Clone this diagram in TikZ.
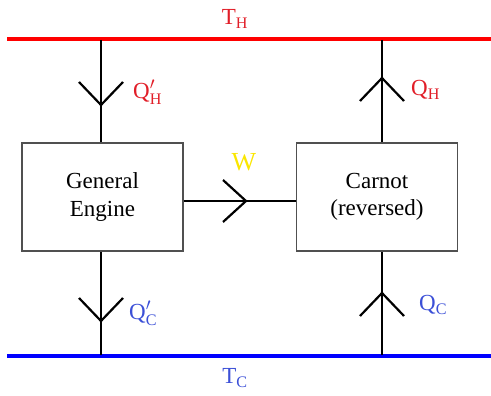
\documentclass[tikz,border=0pt]{standalone}
\usepackage{amsmath}
\usepackage{fontspec}
\setmainfont{Liberation Serif}
\definecolor{hotred}{RGB}{255,0,0}
\definecolor{hotlbl}{RGB}{225,30,40}
\definecolor{coldblue}{RGB}{0,0,255}
\definecolor{coldlbl}{RGB}{60,80,215}
\definecolor{wyellow}{RGB}{250,230,0}
\definecolor{boxgray}{RGB}{80,80,80}
\tikzset{
  reservoir/.style={line width=3.5pt},
  flow/.style={line width=2.2pt, black},
  chev/.style={line width=2.2pt, black, line join=miter},
  engbox/.style={draw=boxgray, line width=1.3pt, minimum width=161pt, minimum height=108pt, align=center, font=\fontsize{23}{27.5}\selectfont, inner sep=0pt},
  hotlabel/.style={text=hotlbl, font=\fontsize{23}{25}\selectfont, inner sep=0pt},
  coldlabel/.style={text=coldlbl, font=\fontsize{23}{25}\selectfont, inner sep=0pt},
}
\begin{document}
\begin{tikzpicture}[x=1pt,y=-1pt]
\useasboundingbox (0,0) rectangle (491,396);
% reservoirs
\coordinate (hl) at (7,39);
\coordinate (hr) at (491,39);
\coordinate (cl) at (7,356);
\coordinate (cr) at (491,356);
\draw[reservoir, hotred] (hl) -- (hr);
\draw[reservoir, coldblue] (cl) -- (cr);
\node[hotlabel] (th) at (235,19) {T$_{\text{H}}$};
\node[coldlabel] (tc) at (235,378) {T$_{\text{C}}$};
% boxes
\node[engbox] (ge) at (102.5,197) {General\\Engine};
\node[engbox] (ca) at (377,197) {Carnot\\(reversed)};
% vertical connectors
\coordinate (h1) at (101,40);
\coordinate (h2) at (382,40);
\coordinate (c1) at (101,355);
\coordinate (c2) at (382,355);
\draw[flow] (h1) -- (h1 |- ge.north);
\draw[flow] (h2) -- (h2 |- ca.north);
\draw[flow] (c1) -- (c1 |- ge.south);
\draw[flow] (c2) -- (c2 |- ca.south);
% horizontal work connector
\coordinate (w1) at (ge.east |- 0,201);
\coordinate (w2) at (ca.west |- 0,201);
\draw[flow] (w1) -- (w2);
% chevrons
\coordinate (t1) at (101,105);
\coordinate (t2) at (382,78);
\coordinate (t3) at (101,321);
\coordinate (t4) at (382,293);
\coordinate (t5) at (246,201);
\draw[chev] ([shift={(-22,-23)}]t1) -- (t1) -- ([shift={(22,-23)}]t1);
\draw[chev] ([shift={(-22,23)}]t2) -- (t2) -- ([shift={(22,23)}]t2);
\draw[chev] ([shift={(-22,-23)}]t3) -- (t3) -- ([shift={(22,-23)}]t3);
\draw[chev] ([shift={(-22,23)}]t4) -- (t4) -- ([shift={(22,23)}]t4);
\draw[chev] ([shift={(-23,-21)}]t5) -- (t5) -- ([shift={(-23,21)}]t5);
% labels
\node[hotlabel, anchor=west] (qhp) at (133,92) {Q$'_{\text{H}}$};
\node[hotlabel, anchor=west] (qh) at (411,90) {Q$_{\text{H}}$};
\node[coldlabel, anchor=west] (qcp) at (129,313) {Q$'_{\text{C}}$};
\node[coldlabel, anchor=west] (qc) at (419,305) {Q$_{\text{C}}$};
\node[text=wyellow, font=\fontsize{26}{28}\selectfont, inner sep=0pt] (w) at (244,162) {W};
\end{tikzpicture}
\end{document}
